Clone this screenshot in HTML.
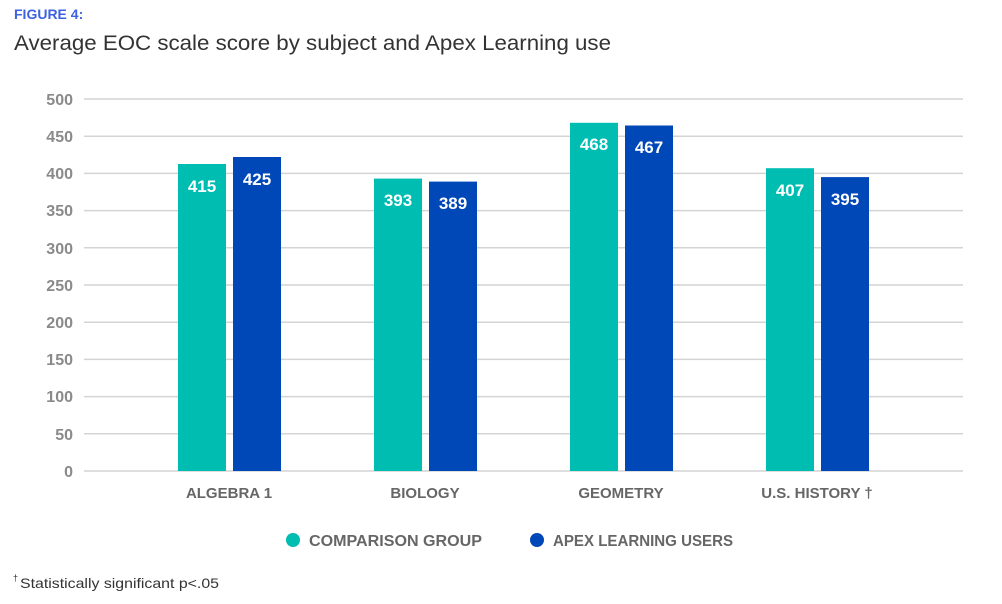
<!DOCTYPE html>
<html><head><meta charset="utf-8"><style>
body{margin:0;background:#fff;width:1002px;height:604px;overflow:hidden}
svg{display:block}
text{font-family:"Liberation Sans",sans-serif}
</style></head><body>
<svg width="1002" height="604" xmlns="http://www.w3.org/2000/svg">
<text x="14" y="19" font-size="14" font-weight="bold" fill="#3d63e0">FIGURE 4:</text>
<text x="14" y="50" font-size="21" fill="#333" textLength="597" lengthAdjust="spacingAndGlyphs">Average EOC scale score by subject and Apex Learning use</text>
<g stroke="#d4d4d4" stroke-width="1.5">
<line x1="84" x2="963" y1="99" y2="99"/><line x1="84" x2="963" y1="136.2" y2="136.2"/>
<line x1="84" x2="963" y1="173.4" y2="173.4"/><line x1="84" x2="963" y1="210.6" y2="210.6"/>
<line x1="84" x2="963" y1="247.8" y2="247.8"/><line x1="84" x2="963" y1="285" y2="285"/>
<line x1="84" x2="963" y1="322.2" y2="322.2"/><line x1="84" x2="963" y1="359.4" y2="359.4"/>
<line x1="84" x2="963" y1="396.6" y2="396.6"/><line x1="84" x2="963" y1="433.8" y2="433.8"/>
<line x1="84" x2="963" y1="471" y2="471"/>
</g>
<g font-size="16" font-weight="bold" fill="#8a8a8a" text-anchor="end">
<text x="73" y="105">500</text><text x="73" y="142">450</text><text x="73" y="179">400</text>
<text x="73" y="216">350</text><text x="73" y="254">300</text><text x="73" y="291">250</text>
<text x="73" y="328">200</text><text x="73" y="365">150</text><text x="73" y="402">100</text>
<text x="73" y="440">50</text><text x="73" y="477">0</text>
</g>
<g>
<rect x="178" y="164" width="48" height="307" fill="#00bdb2"/>
<rect x="233" y="157" width="48" height="314" fill="#0047b8"/>
<rect x="374" y="178.6" width="48" height="292.4" fill="#00bdb2"/>
<rect x="429" y="181.6" width="48" height="289.4" fill="#0047b8"/>
<rect x="570" y="122.8" width="48" height="348.2" fill="#00bdb2"/>
<rect x="625" y="125.5" width="48" height="345.5" fill="#0047b8"/>
<rect x="766" y="168.2" width="48" height="302.8" fill="#00bdb2"/>
<rect x="821" y="177.1" width="48" height="293.9" fill="#0047b8"/>
</g>
<g font-size="17" font-weight="bold" fill="#fff" text-anchor="middle">
<text x="202" y="192">415</text><text x="257" y="185">425</text>
<text x="398" y="206">393</text><text x="453" y="209">389</text>
<text x="594" y="150">468</text><text x="649" y="153">467</text>
<text x="790" y="196">407</text><text x="845" y="205">395</text>
</g>
<g font-size="15" font-weight="bold" fill="#666" text-anchor="middle">
<text x="229" y="498">ALGEBRA 1</text><text x="425" y="498">BIOLOGY</text>
<text x="621" y="498">GEOMETRY</text><text x="817" y="498">U.S. HISTORY †</text>
</g>
<circle cx="293" cy="540" r="7" fill="#00bdb2"/>
<text x="309" y="546" font-size="16" font-weight="bold" fill="#666" textLength="173" lengthAdjust="spacingAndGlyphs">COMPARISON GROUP</text>
<circle cx="537" cy="540" r="7" fill="#0047b8"/>
<text x="553" y="546" font-size="16" font-weight="bold" fill="#666" textLength="180" lengthAdjust="spacingAndGlyphs">APEX LEARNING USERS</text>
<text x="13" y="581" font-size="9" fill="#333">†</text>
<text x="20" y="588" font-size="14" fill="#333" textLength="199" lengthAdjust="spacingAndGlyphs">Statistically significant p&lt;.05</text>
</svg>
</body></html>
